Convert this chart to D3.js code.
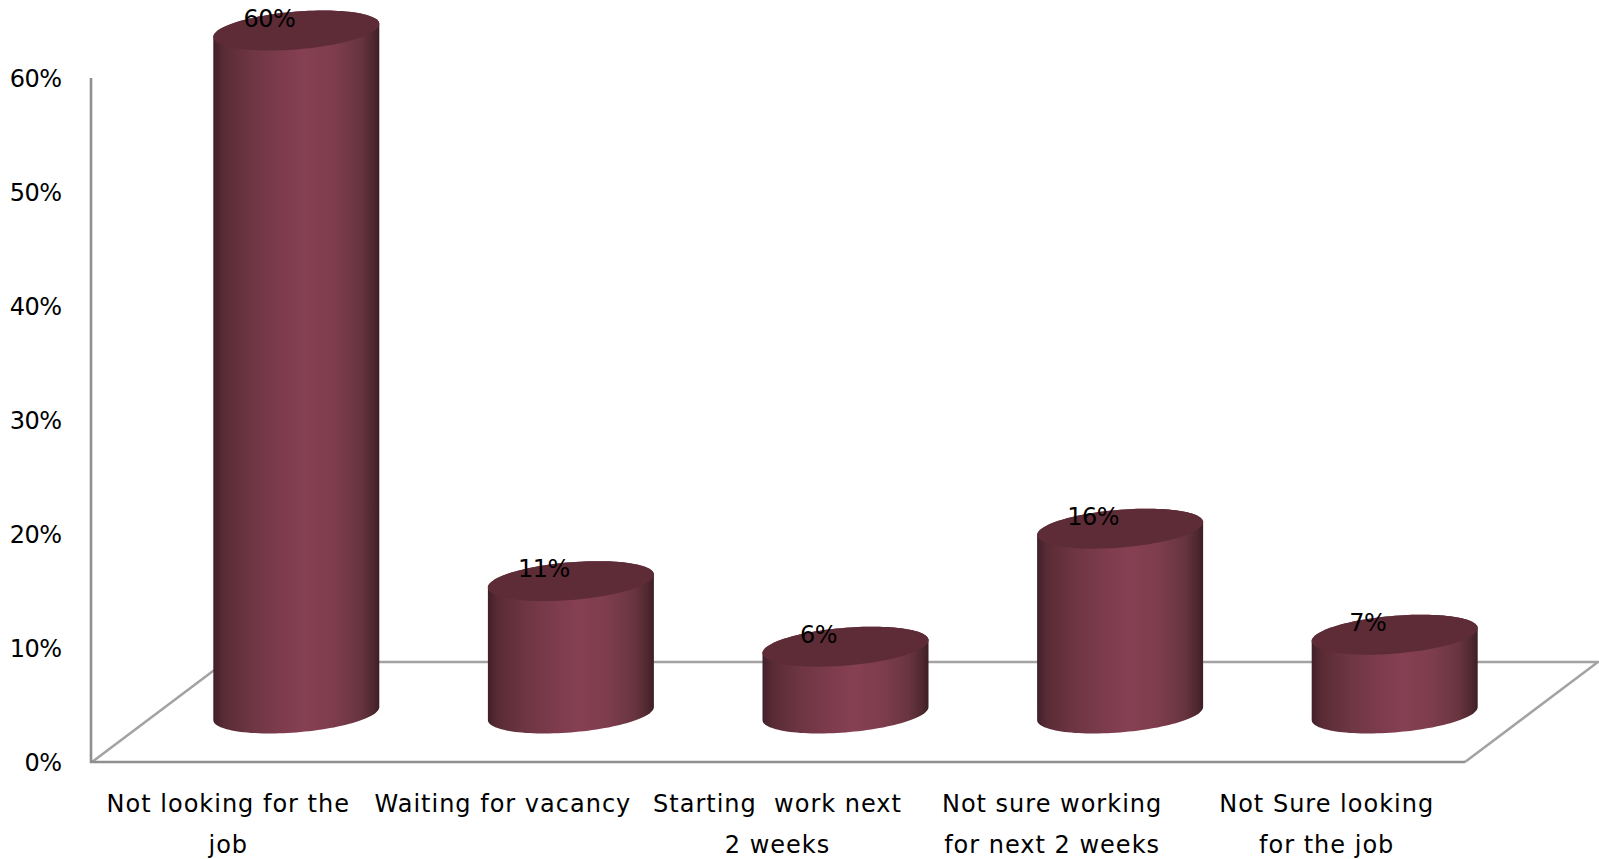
<!DOCTYPE html>
<html><head><meta charset="utf-8">
<script src="https://cdnjs.cloudflare.com/ajax/libs/d3/7.8.5/d3.min.js"></script>
<style>html,body{margin:0;padding:0;background:#fff}svg{display:block}text{font-family:"DejaVu Sans",sans-serif;fill:#000}</style>
</head><body><svg id="c" width="1599" height="859"></svg>
<script>
const categories = [
  ["Not looking for the","job"],
  ["Waiting for vacancy"],
  ["Starting  work next","2 weeks"],
  ["Not sure working","for next 2 weeks"],
  ["Not Sure looking","for the job"]
];
const values = [60, 11.7, 5.95, 16.3, 7];
const valueLabels = ["60%","11%","6%","16%","7%"];
const tickValues = [0,10,20,30,40,50,60];
const gradientStops = [[0,"#40202a"],[0.06,"#592b35"],[0.22,"#6d3543"],[0.42,"#7e3c4e"],[0.55,"#864053"],[0.72,"#7e3d4d"],[0.88,"#693541"],[0.96,"#502830"],[1,"#3e1e25"]];

const svg = d3.select("#c");
const plot = {left:92,right:1465,top:78,bottom:762};
const depth = {dx:133,dy:100};
const x = d3.scaleBand().domain(d3.range(values.length)).range([plot.left,plot.right]);
const y = d3.scaleLinear().domain([0,60]).range([plot.bottom,plot.top]);

const defs = svg.append("defs");
const g = defs.append("linearGradient").attr("id","cyl").attr("x1",0).attr("x2",1).attr("y1",0).attr("y2",0);
g.selectAll("stop").data(gradientStops).join("stop").attr("offset",d=>d[0]).attr("stop-color",d=>d[1]);

// floor and wall
svg.append("path").attr("fill","none").attr("stroke","#a3a3a3").attr("stroke-width",2.6)
  .attr("d",d3.line()([[plot.left,plot.bottom],[plot.left+depth.dx,plot.bottom-depth.dy],[plot.right+depth.dx,plot.bottom-depth.dy],[plot.right,plot.bottom]]));
svg.append("path").attr("fill","none").attr("stroke","#8f8f8f").attr("stroke-width",2.6)
  .attr("d",d3.line()([[plot.left-1,plot.top],[plot.left-1,plot.bottom],[plot.right,plot.bottom]]));

// cylinders
const rx = 83, ry = 18.9, shear = 6.5/83, cxOff = 67, topOff = 47.5, baseOff = 48.5;
function pt(cx,cy,t){const c=Math.cos(t),s=Math.sin(t);return [cx+rx*c, cy+ry*s-shear*rx*c];}
const line = d3.line();
function bodyPath(cx,top,base){
  const bottom = d3.range(0,Math.PI+0.001,Math.PI/60).map(t=>pt(cx,base,t));
  const upper = d3.range(Math.PI,2*Math.PI+0.001,Math.PI/60).map(t=>pt(cx,top,t));
  return line(bottom.concat(upper))+"Z";
}
function topPath(cx,top){return line(d3.range(0,2*Math.PI,Math.PI/60).map(t=>pt(cx,top,t)))+"Z";}
const bars = svg.selectAll("g.bar").data(values).join("g").attr("class","bar");
const cxOf = (d,i)=>x(i)+x.bandwidth()/2+cxOff;
bars.append("path").attr("fill","url(#cyl)").attr("d",(d,i)=>bodyPath(cxOf(d,i),y(d)-topOff,y(0)-baseOff));
bars.append("path").attr("fill","#5d2c37").attr("d",(d,i)=>topPath(cxOf(d,i),y(d)-topOff));
bars.append("text").attr("x",(d,i)=>cxOf(d,i)-27).attr("y",d=>y(d)-topOff-12.5).attr("dy","0.36em")
  .attr("text-anchor","middle").attr("font-size",24).attr("letter-spacing",-0.5).text((d,i)=>valueLabels[i]);

// value axis labels
svg.selectAll("text.tick").data(tickValues).join("text").attr("class","tick")
  .attr("x",61.5).attr("y",d=>y(d)).attr("dy","0.36em").attr("text-anchor","end").attr("font-size",24).attr("letter-spacing",-0.5).text(d=>d+"%");

// category labels
const cat = svg.selectAll("text.cat").data(categories).join("text").attr("class","cat")
  .attr("text-anchor","middle").attr("font-size",24).attr("letter-spacing",1);
cat.selectAll("tspan").data((d,i)=>d.map((s,j)=>({s,j,i}))).join("tspan")
  .attr("x",d=>x(d.i)+x.bandwidth()/2-1).attr("y",d=>812+d.j*41).style("white-space","pre").text(d=>d.s);
</script></body></html>
